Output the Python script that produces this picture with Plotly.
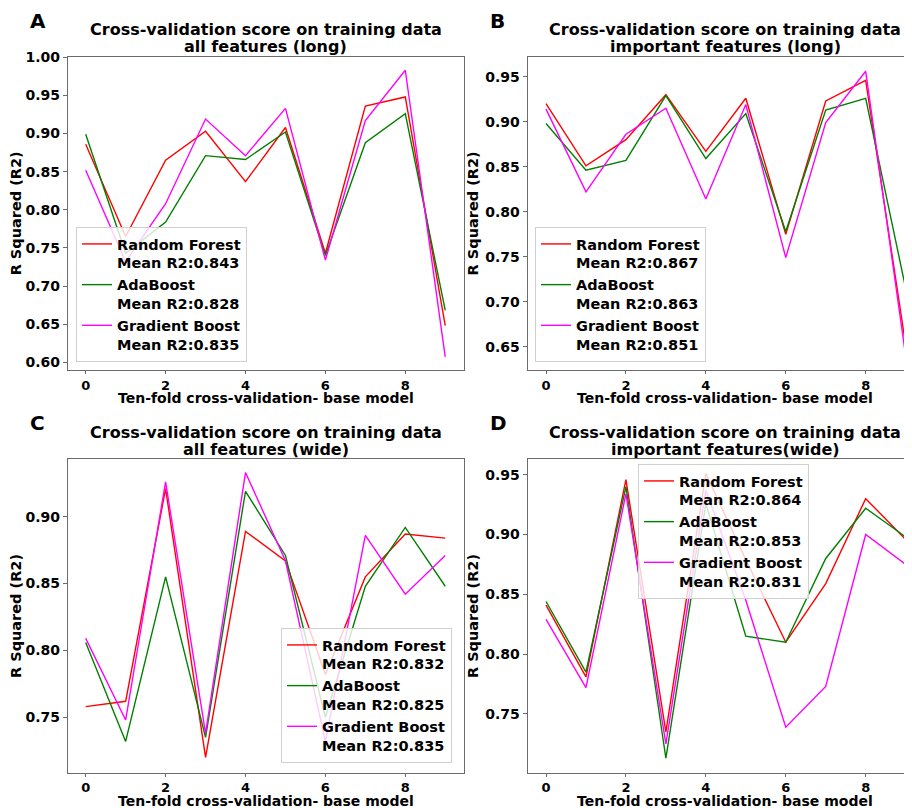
import plotly.graph_objects as go

# The page body has an 8px default margin, so the figure is drawn 8px in from
# the top-left corner; geometry below is given in window pixels and shifted.
OFF = 8
W, H = 912 - OFF, 808 - OFF

folds = list(range(10))
models = ["Random Forest", "AdaBoost", "Gradient Boost"]
colors = ["#ff0000", "#008000", "#ff00ff"]

# Panel A: all features (long)
rf_A = [0.886, 0.765, 0.865, 0.903, 0.837, 0.908, 0.743, 0.936, 0.948, 0.648]
ada_A = [0.899, 0.743, 0.784, 0.871, 0.866, 0.902, 0.740, 0.888, 0.926, 0.668]
gb_A = [0.852, 0.732, 0.808, 0.919, 0.871, 0.933, 0.734, 0.917, 0.983, 0.607]
means_A = ["0.843", "0.828", "0.835"]

# Panel B: important features (long)
rf_B = [0.920, 0.851, 0.880, 0.930, 0.867, 0.926, 0.775, 0.923, 0.946, 0.652]
ada_B = [0.898, 0.846, 0.857, 0.929, 0.859, 0.909, 0.778, 0.913, 0.926, 0.715]
gb_B = [0.914, 0.822, 0.886, 0.915, 0.814, 0.919, 0.749, 0.899, 0.956, 0.640]
means_B = ["0.867", "0.863", "0.851"]

# Panel C: all features (wide)
rf_C = [0.758, 0.762, 0.921, 0.720, 0.889, 0.867, 0.782, 0.855, 0.887, 0.884]
ada_C = [0.806, 0.732, 0.855, 0.735, 0.919, 0.871, 0.750, 0.848, 0.892, 0.848]
gb_C = [0.809, 0.748, 0.926, 0.738, 0.933, 0.867, 0.732, 0.886, 0.842, 0.871]
means_C = ["0.832", "0.825", "0.835"]

# Panel D: important features (wide)
rf_D = [0.841, 0.781, 0.946, 0.735, 0.951, 0.879, 0.810, 0.859, 0.930, 0.896]
ada_D = [0.844, 0.785, 0.940, 0.713, 0.926, 0.815, 0.810, 0.880, 0.922, 0.898]
gb_D = [0.829, 0.772, 0.934, 0.725, 0.937, 0.845, 0.739, 0.773, 0.900, 0.875]
means_D = ["0.864", "0.853", "0.831"]

title_line1 = "Cross-validation score on training data"
title_line2 = [
    "all features (long)",
    "important features (long)",
    "all features (wide)",
    "important features(wide)",
]
letters = ["A", "B", "C", "D"]
x_title = "Ten-fold cross-validation- base model"
y_title = "R Squared (R2)"
x_ticks = [0, 2, 4, 6, 8]
y_ticks_A = [0.60, 0.65, 0.70, 0.75, 0.80, 0.85, 0.90, 0.95, 1.00]
y_ticks_B = [0.65, 0.70, 0.75, 0.80, 0.85, 0.90, 0.95]
y_ticks_C = [0.75, 0.80, 0.85, 0.90]
y_ticks_D = [0.75, 0.80, 0.85, 0.90, 0.95]

series = [(rf_A, ada_A, gb_A), (rf_B, ada_B, gb_B), (rf_C, ada_C, gb_C), (rf_D, ada_D, gb_D)]
means = [means_A, means_B, means_C, means_D]
yticks = [y_ticks_A, y_ticks_B, y_ticks_C, y_ticks_D]

# window-pixel geometry: left, right, top, bottom of plot areas
boxes = [
    (68, 463.5, 56.7, 370.0),
    (527.7, 912, 56.7, 370.0),
    (68, 463.5, 459.3, 772.7),
    (527.7, 912, 459.3, 772.7),
]
full_right = [463.5, 923.0, 463.5, 923.0]
xranges = [[-0.443, 9.457], [-0.458, 9.159], [-0.443, 9.457], [-0.458, 9.159]]
yranges = [[0.5899, 1.0008], [0.6241, 0.9722], [0.7086, 0.9429], [0.7009, 0.9629]]
legend_pos = [(76, 227), (535, 227), (281, 628), (638, 464)]


def px(xw):
    return (xw - OFF) / W


def py(yw):
    return (H - (yw - OFF)) / H


FONT = "DejaVu Sans"
AX = "#6b6b6b"

fig = go.Figure()
layout = dict(
    width=W, height=H, margin=dict(l=0, r=0, t=0, b=0, autoexpand=False),
    paper_bgcolor="white", plot_bgcolor="white",
    font=dict(family=FONT, color="black", weight="bold"),
    annotations=[],
)


def text_ann(text, xw, yw, size, xanchor="center", yanchor="middle"):
    return dict(
        text=text, x=px(xw), y=py(yw), xref="paper", yref="paper",
        xanchor=xanchor, yanchor=yanchor, showarrow=False,
        font=dict(family=FONT, size=size, weight="bold", color="black"),
    )


for i in range(4):
    sfx = "" if i == 0 else str(i + 1)
    lg = "legend" if i == 0 else "legend" + str(i + 1)
    for j in range(3):
        fig.add_trace(go.Scatter(
            x=folds, y=series[i][j], mode="lines",
            line=dict(color=colors[j], width=1.4),
            name=models[j] + "<br>Mean R2:" + means[i][j],
            xaxis="x" + sfx, yaxis="y" + sfx, legend=lg,
            legendgroup="g%d_%d" % (i, j),
        ))
    l, r, t, b = boxes[i]
    right_spine = i in (0, 2)
    layout["xaxis" + sfx] = dict(
        domain=[px(l), min(px(r), 1.0)], range=xranges[i], anchor="y" + sfx,
        tickvals=x_ticks, ticks="outside", ticklen=3, tickcolor=AX,
        showline=True, linecolor=AX, linewidth=1.2, mirror=True,
        showgrid=False, zeroline=False,
        tickfont=dict(family=FONT, size=13, weight="bold", color="black"),
    )
    layout["yaxis" + sfx] = dict(
        domain=[py(b), py(t)], range=yranges[i], anchor="x" + sfx,
        tickvals=yticks[i], tickformat=".2f", ticks="outside", ticklen=4, tickcolor=AX,
        showline=True, linecolor=AX, linewidth=1.2, mirror=right_spine,
        showgrid=False, zeroline=False,
        tickfont=dict(family=FONT, size=14, weight="bold", color="black"),
        title=dict(text=y_title, standoff=3,
                   font=dict(family=FONT, size=14.5, weight="bold", color="black")),
    )
    lx, ly = legend_pos[i]
    layout[lg] = dict(
        x=px(lx), y=py(ly), xanchor="left", yanchor="top",
        xref="paper", yref="paper",
        bgcolor="rgba(255,255,255,0.8)", bordercolor="#d0d0d0", borderwidth=1,
        font=dict(family=FONT, size=14.5, weight="bold", color="black"),
        valign="top", tracegroupgap=12, traceorder="normal",
    )
    cx = (l + full_right[i]) / 2
    layout["annotations"].append(text_ann(title_line1, cx, t - 27.2, 16))
    layout["annotations"].append(text_ann(title_line2[i], cx, t - 9.7, 16))
    layout["annotations"].append(text_ann(x_title, cx, b + 27.8, 14))
    layout["annotations"].append(text_ann(letters[i], l - 40, t - 50, 20,
                                          xanchor="left", yanchor="top"))

fig.update_layout(**layout)
fig.write_html("out.html")
